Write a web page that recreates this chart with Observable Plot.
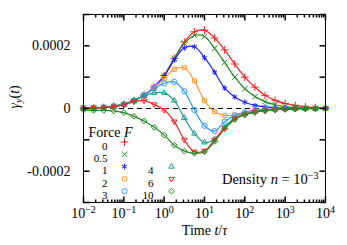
<!DOCTYPE html>
<html><head><meta charset="utf-8">
<script src="https://cdn.jsdelivr.net/npm/d3@7"></script>
<script src="https://cdn.jsdelivr.net/npm/@observablehq/plot@0.6"></script>
<style>
body{margin:0;background:#fff} svg{display:block}
#chart svg, #chart svg text, #chart svg tspan{font-family:"Liberation Serif","Times New Roman","DejaVu Serif",serif !important;}
</style>
</head><body><div id="chart"></div>
<script>
// time grid t/τ (quarter decades)
const times = [0.01,0.0178,0.0316,0.0562,0.1,0.178,0.316,0.562,1,1.78,3.16,5.62,10,17.8,31.6,56.2,100,178,316,562,1000,1780,3160,5620,10000];
const forces = ["0","0.5","1","2","3","4","6","10"];
// gamma_y(t) in units of 1e-4
const gammaF0   = [0.01,0.02,0.035,0.07,0.13,0.25,0.42,0.68,1.05,1.6,2.12,2.45,2.5,2.25,1.87,1.42,1.0,0.68,0.42,0.26,0.16,0.1,0.055,0.03,0.015];
const gammaF05  = [0.01,0.02,0.035,0.07,0.13,0.25,0.42,0.68,1.05,1.6,2.08,2.33,2.3,1.92,1.47,1.0,0.63,0.38,0.22,0.12,0.06,0.03,0.015,0.01,0.005];
const gammaF1   = [0.01,0.02,0.035,0.07,0.13,0.25,0.42,0.68,1.03,1.55,1.93,1.97,1.62,1.16,0.65,0.37,0.2,0.1,0.05,0.025,0.012,0.006,0.003,0.001,0];
const gammaF2   = [0.01,0.02,0.035,0.07,0.13,0.25,0.42,0.67,0.95,1.25,1.3,0.88,0.25,-0.1,-0.22,-0.21,-0.15,-0.08,-0.04,-0.02,-0.01,-0.005,0,0,0];
const gammaF3   = [0.01,0.02,0.035,0.07,0.13,0.25,0.42,0.64,0.8,0.85,0.55,-0.05,-0.55,-0.72,-0.42,-0.22,-0.12,-0.05,-0.03,-0.015,-0.008,-0.004,0,0,0];
const gammaF4   = [0.01,0.02,0.035,0.07,0.13,0.25,0.4,0.5,0.5,0.25,-0.3,-0.8,-1.08,-0.98,-0.6,-0.3,-0.17,-0.1,-0.05,-0.03,-0.015,-0.008,-0.004,0,0];
const gammaF6   = [0,0.01,0.03,0.06,0.12,0.22,0.25,0.13,-0.05,-0.42,-1.0,-1.38,-1.35,-1.0,-0.62,-0.33,-0.2,-0.12,-0.07,-0.04,-0.02,-0.01,-0.005,0,0];
const gammaF10  = [-0.05,-0.06,-0.06,-0.08,-0.13,-0.25,-0.4,-0.6,-0.85,-1.17,-1.36,-1.43,-1.38,-1.05,-0.65,-0.35,-0.2,-0.12,-0.07,-0.04,-0.02,-0.01,-0.005,0,0];
const seriesValues = [gammaF0,gammaF05,gammaF1,gammaF2,gammaF3,gammaF4,gammaF6,gammaF10];

const xTicks = [0.01,0.1,1,10,100,1000,10000];
const xTickLabels = ["10^{−2}","10^{−1}","10^{0}","10^{1}","10^{2}","10^{3}","10^{4}"];
const yTicks = [-0.0002,0,0.0002];
const yTickLabels = ["-0.0002","0","0.0002"];
const yAllTicks = [-0.0003,-0.0002,-0.0001,0,0.0001,0.0002,0.0003];
const xMinorTicks = [];
for (const dec of [0.01,0.1,1,10,100,1000]) for (let k=2;k<=9;k++) xMinorTicks.push(+(dec*k).toPrecision(3));

const triDown = {draw(c,size){const s=Math.sqrt(size)*0.6824,t=s/2,u=s*Math.sqrt(3)/2;c.moveTo(0,s);c.lineTo(u,-t);c.lineTo(-u,-t);c.closePath();}};
const seg = (dx,dy)=>({draw(c){c.moveTo(0,0);c.lineTo(dx,dy);}});

const red="#f22424", green="#1f8c1f", blue="#2020ff", orange="#ff9a33", lblue="#3399ff", teal="#1f9b8f";
const colors = [red,green,blue,orange,lblue,teal,red,green];
const symbols = ["plus","times","asterisk","square2","circle",'triangle2',triDown,"diamond2"];

const series = forces.map((f,i)=>({
  f, color: colors[i], symbol: symbols[i],
  rows: times.map((t,j)=>({t, v: seriesValues[i][j]*1e-4}))
}));

const marks = [
  Plot.ruleY([0], {stroke:"black", strokeDasharray:"5,4", strokeWidth:1.1}),
];
for (const s of series) {
  marks.push(Plot.line(s.rows, {x:"t", y:"v", stroke:s.color, strokeWidth:1.2, curve:"catmull-rom"}));
  marks.push(Plot.dot(s.rows, {x:"t", y:"v", stroke:s.color, fill:"none", symbol:s.symbol, r:2.6, strokeWidth:1}));
}
marks.push(
  Plot.frame({stroke:"black", strokeWidth:1}),
  Plot.dot(xTicks, {x:d=>d, frameAnchor:"bottom", symbol:seg(0,-6), stroke:"black", fill:"none"}),
  Plot.dot(xMinorTicks, {x:d=>d, frameAnchor:"bottom", symbol:seg(0,-3), stroke:"black", fill:"none"}),
  Plot.dot(xTicks, {x:d=>d, frameAnchor:"top", symbol:seg(0,6), stroke:"black", fill:"none"}),
  Plot.dot(xMinorTicks, {x:d=>d, frameAnchor:"top", symbol:seg(0,3), stroke:"black", fill:"none"}),
  Plot.dot(yAllTicks, {y:d=>d, frameAnchor:"left", symbol:seg(6,0), stroke:"black", fill:"none"}),
  Plot.dot(yAllTicks, {y:d=>d, frameAnchor:"right", symbol:seg(-6,0), stroke:"black", fill:"none"}),
  Plot.axisX(xTicks, {anchor:"bottom", tickSize:0, tickPadding:6, label:null, fontSize:14, tickFormat:d=>xTickLabels[xTicks.indexOf(d)]}),
  Plot.axisY(yTicks, {anchor:"left", tickSize:0, tickPadding:13, label:null, fontSize:14, tickFormat:d=>yTickLabels[yTicks.indexOf(d)]}),
  Plot.text(["*γ*_{y}(*t*)"], {frameAnchor:"left", rotate:-90, dx:-69, fontSize:14, text:d=>d}),
  Plot.text(["Time *t*/*τ*"], {frameAnchor:"bottom", dy:32.5, fontSize:14, text:d=>d}),
  Plot.text(["Density *n* = 10^{−3}"], {frameAnchor:"bottom-right", dx:-7, dy:-19, textAnchor:"end", fontSize:14.5, text:d=>d}),
  Plot.text(["Force *F*"], {frameAnchor:"top-left", dx:5, dy:113, textAnchor:"start", fontSize:14, text:d=>d})
);
series.forEach((s,i)=>{
  const col = i<5 ? 0 : 1, row = i<5 ? i : i-3;
  const dy = 127.5 + 12.3*row;
  marks.push(
    Plot.text([s.f], {frameAnchor:"top-left", dx: col ? 70 : 24, dy, textAnchor:"end", fontSize:11, text:d=>d}),
    Plot.dot([0], {frameAnchor:"top-left", dx: col ? 88 : 41, dy, symbol:s.symbol, stroke:s.color, fill:"none", r:2.6, strokeWidth:1})
  );
});

const chart = Plot.plot({
  width:347, height:245,
  marginLeft:83, marginRight:22, marginTop:14, marginBottom:43,
  style:{fontSize:"14px", background:"white", color:"black"},
  x:{type:"log", domain:[0.01,10000], label:null},
  y:{domain:[-0.0003,0.0003], label:null},
  marks
});
document.getElementById("chart").appendChild(chart);

// rich text: *italic*, ^{sup}, _{sub}
const svgns = "http://www.w3.org/2000/svg";
function rich(el, markup){
  const parts=[]; const re=/\*([^*]+)\*|\^\{([^}]+)\}|_\{([^}]+)\}|([^*^_]+)/g; let m;
  while((m=re.exec(markup))){
    if(m[1]) parts.push({t:m[1],it:1});
    else if(m[2]) parts.push({t:m[2],sh:-5});
    else if(m[3]) parts.push({t:m[3],sh:3,it:1});
    else parts.push({t:m[4]});
  }
  el.textContent=""; let cur=0;
  for(const p of parts){
    const ts=document.createElementNS(svgns,"tspan"); ts.textContent=p.t;
    const want=p.sh||0; if(want!==cur){ts.setAttribute("dy",want-cur); cur=want;}
    if(p.sh) ts.setAttribute("font-size","10");
    if(p.it) ts.setAttribute("font-style","italic");
    el.appendChild(ts);
  }
}
chart.querySelectorAll("text").forEach(el=>{
  const s=el.textContent; if(/[*^_]/.test(s)) rich(el,s);
});
</script></body></html>
